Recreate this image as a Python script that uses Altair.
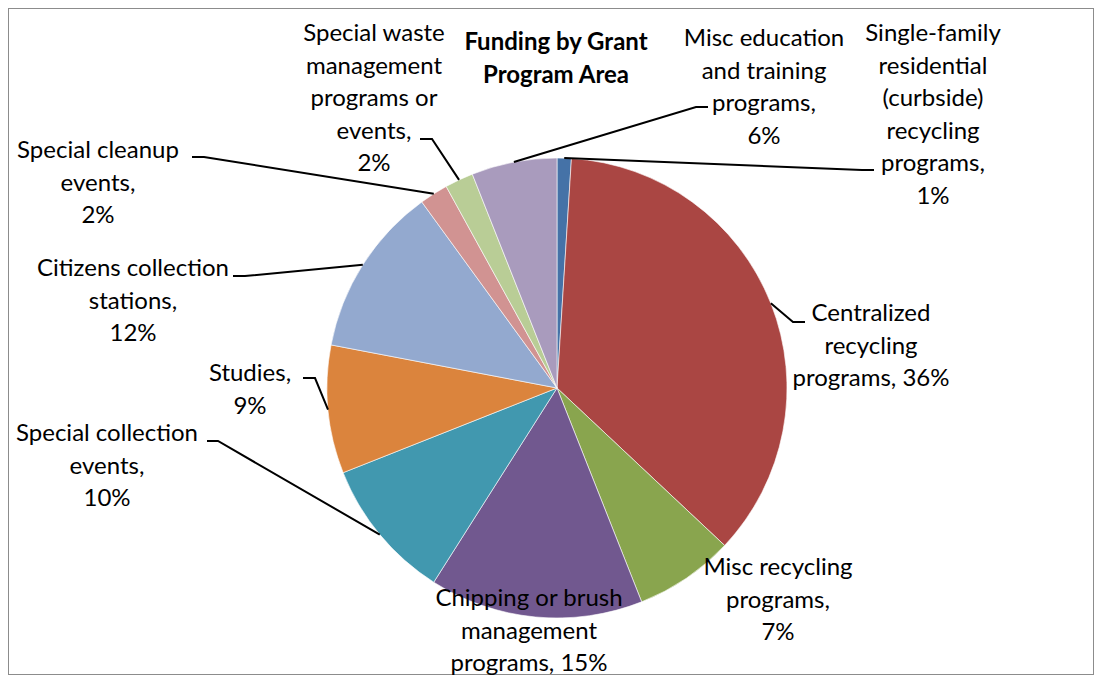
import altair as alt
import numpy as np
import pandas as pd

# ---- data ----
categories = [
    "Single-family residential (curbside) recycling programs",
    "Centralized recycling programs",
    "Misc recycling programs",
    "Chipping or brush management programs",
    "Special collection events",
    "Studies",
    "Citizens collection stations",
    "Special cleanup events",
    "Special waste management programs or events",
    "Misc education and training programs",
]
values = [1, 36, 7, 15, 10, 9, 12, 2, 2, 6]
label_texts = [
    "Single-family\nresidential\n(curbside)\nrecycling\nprograms,\n1%",
    "Centralized\nrecycling\nprograms, 36%",
    "Misc recycling\nprograms,\n7%",
    "Chipping or brush\nmanagement\nprograms, 15%",
    "Special collection\nevents,\n10%",
    "Studies,\n9%",
    "Citizens collection\nstations,\n12%",
    "Special cleanup\nevents,\n2%",
    "Special waste\nmanagement\nprograms or\nevents,\n2%",
    "Misc education\nand training\nprograms,\n6%",
]
title_text = "Funding by Grant\nProgram Area"

# ---- style / layout ----
colors = ["#4572A7", "#AA4643", "#89A54E", "#71588F", "#4198AF",
          "#DB843D", "#93A9CF", "#D19392", "#B9CD96", "#A99BBD"]
CX, CY, R = 557, 388, 230  # page pixel frame
W, H, M = 1086, 667, 8
# label first-line centres (page pixels)
label_pos = [(933, 34), (871, 314), (778, 568), (529, 599), (107, 434),
             (250, 374), (133, 269), (98, 151), (374, 34), (764, 39)]
# leader elbows: list of (x, y) points after the slice edge, or None
leader_pts = [
    [(862, 170), (874, 170)],
    [(793, 322), (805, 322)],
    None,
    None,
    [(218, 441), (207, 441)],
    [(315, 378), (303, 378)],
    [(245, 276), (233, 276)],
    [(204, 157), (192, 157)],
    [(432, 139), (420, 139)],
    [(696, 107), (708, 107)],
]

df = pd.DataFrame({"category": categories, "value": values,
                   "idx": list(range(len(values)))})

total = float(sum(values))
cum = np.cumsum([0] + values[:-1])
mid = (cum + np.array(values) / 2.0) / total * 2 * np.pi

lab_rows = []
for i, t in enumerate(label_texts):
    lab_rows.append({"x": label_pos[i][0], "y": label_pos[i][1], "text": t})
lab_df = pd.DataFrame(lab_rows)

line_rows = []
for i, pts in enumerate(leader_pts):
    if pts is None:
        continue
    ex = CX + R * np.sin(mid[i])
    ey = CY - R * np.cos(mid[i])
    line_rows.append({"seg": i, "o": 0, "x": ex, "y": ey})
    for k, (px, py) in enumerate(pts):
        line_rows.append({"seg": i, "o": k + 1, "x": px, "y": py})
line_df = pd.DataFrame(line_rows)

xs = alt.Scale(domain=[M, M + W], nice=False, zero=False)
ys = alt.Scale(domain=[M, M + H], nice=False, zero=False, reverse=True)

pie = alt.Chart(df).mark_arc(radius=R, stroke="white", strokeWidth=0.6).encode(
    theta=alt.Theta("value:Q", stack=True),
    order=alt.Order("idx:Q"),
    color=alt.Color("category:N", scale=alt.Scale(domain=categories, range=colors), legend=None),
    x=alt.value(CX - M),
    y=alt.value(CY - M),
)

leaders = alt.Chart(line_df).mark_line(color="black", strokeWidth=2).encode(
    x=alt.X("x:Q", scale=xs, axis=None),
    y=alt.Y("y:Q", scale=ys, axis=None),
    detail="seg:N",
    order="o:Q",
)

labels = alt.Chart(lab_df).mark_text(
    lineBreak="\n", font="Lato", fontSize=24, lineHeight=32.6,
    align="center", baseline="middle", color="black",
).encode(
    x=alt.X("x:Q", scale=xs, axis=None),
    y=alt.Y("y:Q", scale=ys, axis=None),
    text="text:N",
)

title_df = pd.DataFrame({"x": [556], "y": [43], "text": [title_text]})
title = alt.Chart(title_df).mark_text(
    lineBreak="\n", font="Lato", fontSize=24, fontWeight="bold", lineHeight=33,
    align="center", baseline="middle", color="black",
).encode(
    x=alt.X("x:Q", scale=xs, axis=None),
    y=alt.Y("y:Q", scale=ys, axis=None),
    text="text:N",
)

chart = alt.layer(pie, leaders, labels, title).properties(
    width=W, height=H, padding=0, autosize="none",
    background="white",
).configure_view(stroke="#8c8c8c", strokeWidth=2)

chart.save("out.html", embed_options={"renderer": "svg", "actions": False})
